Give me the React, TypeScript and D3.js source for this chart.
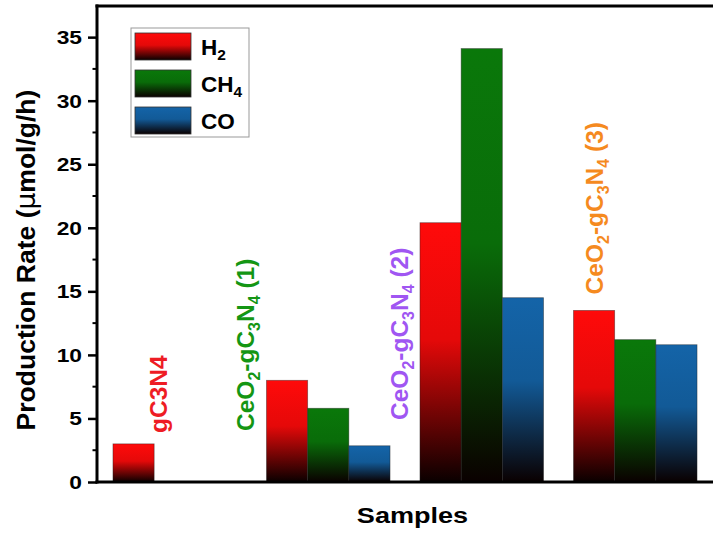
import * as d3 from 'd3';
import { useEffect, useRef } from 'react';

const samples = ['gC3N4', 'CeO2-gC3N4 (1)', 'CeO2-gC3N4 (2)', 'CeO2-gC3N4 (3)'];
const gases = ['H2', 'CH4', 'CO'];
const h2 = [3.0, 8.0, 20.4, 13.5];
const ch4 = [0, 5.8, 34.1, 11.2];
const co = [0, 2.85, 14.5, 10.8];
const yTicks = [0, 5, 10, 15, 20, 25, 30, 35];

const gasColors = ['#ff0a0a', '#0a780a', '#1464a8'];
const labelColors = ['#ee1c24', '#149614', '#a056f2', '#f58a1f'];

const W = 713;
const H = 535;
const m = { left: 97, right: 0, top: 6, bottom: 53 };

const App = () => {
  const ref = useRef<SVGSVGElement | null>(null);

  useEffect(() => {
    if (!ref.current) return;
    const svg = d3.select(ref.current);
    svg.selectAll('*').remove();

    const series = [h2, ch4, co];
    const font = '"Liberation Sans", Arial, sans-serif';

    const x0 = d3.scaleBand<string>().domain(samples)
      .range([m.left, W - m.right]).paddingInner(0.195).paddingOuter(0.104);
    const x1 = d3.scaleBand<string>().domain(gases).range([0, x0.bandwidth()]);
    const y = d3.scaleLinear().domain([0, 37.45]).range([H - m.bottom, m.top]);

    const defs = svg.append('defs');
    gasColors.forEach((c, i) => {
      const g = defs.append('linearGradient').attr('id', `grad${i}`)
        .attr('x1', 0).attr('y1', 0).attr('x2', 0).attr('y2', 1);
      g.append('stop').attr('offset', '0%').attr('stop-color', c);
      g.append('stop').attr('offset', '45%').attr('stop-color', d3.color(c)!.darker(0.3).formatHex());
      g.append('stop').attr('offset', '100%').attr('stop-color', '#0a0000');
    });

    // bars
    samples.forEach((s, si) => {
      gases.forEach((gname, gi) => {
        const v = series[gi][si];
        if (v <= 0) return;
        svg.append('rect')
          .attr('x', x0(s)! + x1(gname)!)
          .attr('y', y(v))
          .attr('width', x1.bandwidth())
          .attr('height', y(0) - y(v))
          .attr('fill', `url(#grad${gi})`)
          .attr('stroke', '#222')
          .attr('stroke-opacity', 0.5)
          .attr('stroke-width', 0.8);
      });
    });

    // sample labels (rotated, with subscripts)
    samples.forEach((s, si) => {
      let bx: number;
      let by: number;
      if (si === 0) { bx = x0(s)! + x1.bandwidth() + 13; by = y(0) - 49; }
      else if (si === 3) { bx = x0(s)! + x1.bandwidth() / 2 + 9; by = y(h2[si]) - 16; }
      else { bx = x0(s)! - 12; by = si === 1 ? y(0) - 51 : y(0) - 62; }
      const t = svg.append('text')
        .attr('transform', `translate(${bx},${by}) rotate(-90)`)
        .attr('font-family', font)
        .attr('font-weight', 'bold')
        .attr('font-size', 24.5)
        .attr('fill', labelColors[si]);
      if (si === 0) {
        t.text('gC3N4');
      } else {
        const parts: [string, boolean][] = [['CeO', false], ['2', true], ['-gC', false], ['3', true], ['N', false], ['4', true], [` (${si})`, false]];
        let shifted = false;
        parts.forEach(([txt, sub]) => {
          let dy = 0;
          if (sub && !shifted) { dy = 6; shifted = true; }
          if (!sub && shifted) { dy = -6; shifted = false; }
          t.append('tspan')
            .attr('font-size', sub ? 16 : 24.5)
            .attr('dy', dy)
            .text(txt);
        });
      }
    });

    // y axis ticks
    const yAxis = d3.axisLeft(y).tickValues(yTicks).tickSize(9).tickFormat(() => '');
    const ya = svg.append('g').attr('transform', `translate(${m.left},0)`).call(yAxis);
    ya.select('.domain').remove();
    ya.selectAll('line').attr('stroke', '#000').attr('stroke-width', 2.5);
    svg.append('g').selectAll('text').data(yTicks).enter().append('text')
      .attr('transform', d => `translate(82,${y(d)}) scale(1.2,1)`)
      .attr('dy', '0.36em')
      .attr('text-anchor', 'end')
      .attr('font-family', font).attr('font-weight', 'bold')
      .attr('font-size', 19).attr('fill', '#000')
      .text(d => d);
    const minor = d3.range(2.5, 37.5, 5);
    svg.append('g').selectAll('line').data(minor).enter().append('line')
      .attr('x1', m.left - 4.5).attr('x2', m.left)
      .attr('y1', d => y(d)).attr('y2', d => y(d))
      .attr('stroke', '#000').attr('stroke-width', 2);

    // frame lines
    svg.append('line').attr('x1', m.left).attr('x2', m.left)
      .attr('y1', m.top - 1.5).attr('y2', y(0) + 1.5)
      .attr('stroke', '#000').attr('stroke-width', 3);
    svg.append('line').attr('x1', m.left - 1.5).attr('x2', W)
      .attr('y1', y(0)).attr('y2', y(0))
      .attr('stroke', '#000').attr('stroke-width', 3);
    svg.append('line').attr('x1', m.left - 1.5).attr('x2', W)
      .attr('y1', m.top).attr('y2', m.top)
      .attr('stroke', '#000').attr('stroke-width', 3);

    // axis titles
    const yt = svg.append('text')
      .attr('transform', `translate(35,260) rotate(-90)`)
      .attr('text-anchor', 'middle')
      .attr('font-family', font).attr('font-weight', 'bold').attr('font-size', 26.5)
      .attr('fill', '#000');
    yt.append('tspan').text('Production Rate (');
    yt.append('tspan').attr('font-family', '"DejaVu Sans", sans-serif').attr('font-weight', 'normal').text('μ');
    yt.append('tspan').text('mol/g/h)');

    svg.append('text')
      .attr('transform', 'translate(412.5,523) scale(1.23,1)')
      .attr('text-anchor', 'middle')
      .attr('font-family', font).attr('font-weight', 'bold').attr('font-size', 22)
      .attr('fill', '#000').text('Samples');

    // legend
    const lg = svg.append('g').attr('transform', 'translate(131,28)');
    lg.append('rect').attr('width', 118).attr('height', 109)
      .attr('fill', '#fff').attr('stroke', '#999').attr('stroke-width', 1);
    gases.forEach((gname, gi) => {
      const row = lg.append('g').attr('transform', `translate(4,${5 + gi * 37})`);
      row.append('rect').attr('width', 56).attr('height', 27)
        .attr('fill', `url(#grad${gi})`).attr('stroke', '#333').attr('stroke-width', 0.8);
      const t = row.append('text').attr('x', 66).attr('y', 22)
        .attr('font-family', font).attr('font-weight', 'bold').attr('font-size', 22.5).attr('fill', '#000');
      const base = gname.replace(/\d/g, '');
      const sub = gname.replace(/\D/g, '');
      t.append('tspan').text(base);
      if (sub) t.append('tspan').attr('font-size', 15.5).attr('dy', 5).text(sub);
    });
  }, []);

  return (
    <svg ref={ref} width={W} height={H} style={{ position: 'absolute', left: 0, top: 0, background: '#fff' }} />
  );
};

export default App;
